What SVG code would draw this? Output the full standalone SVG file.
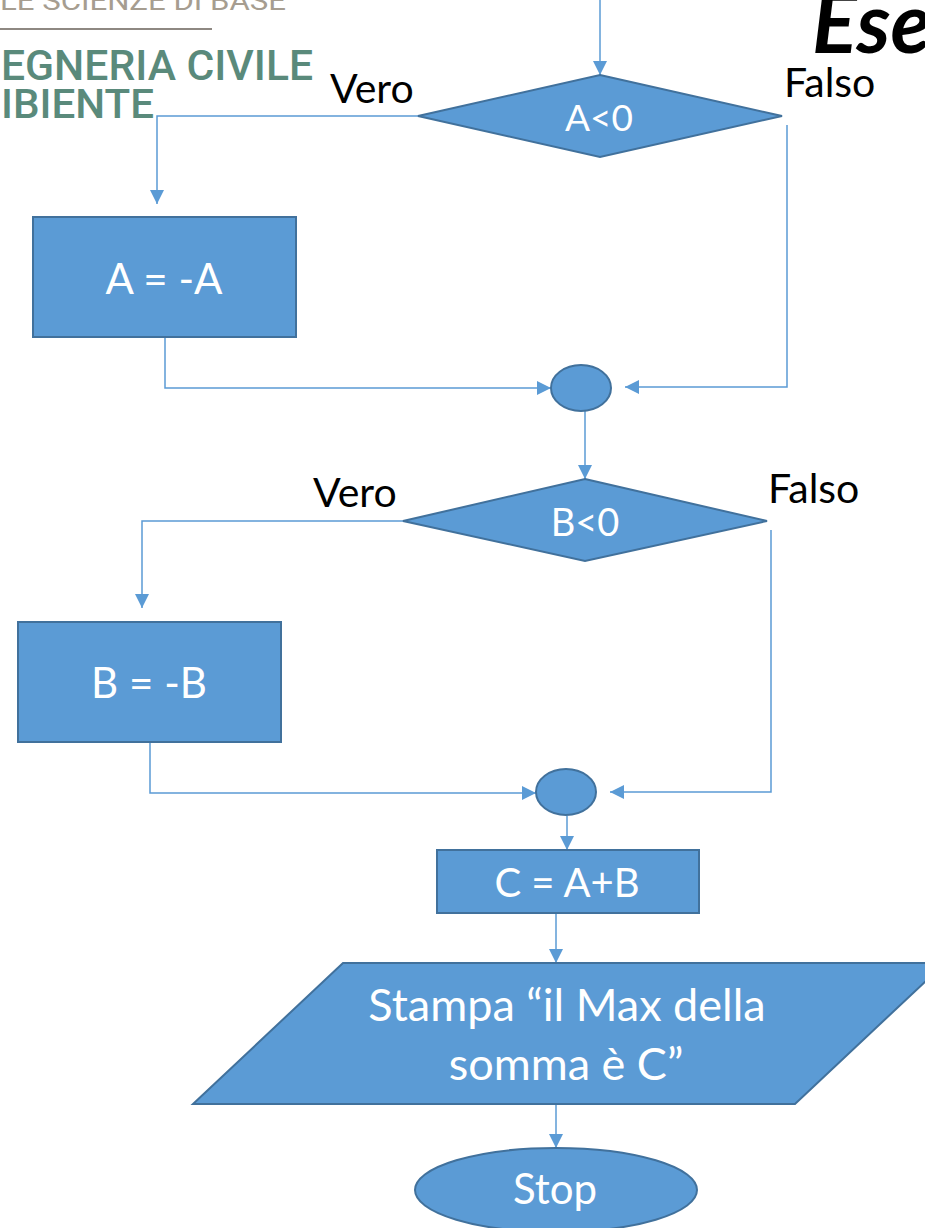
<svg xmlns="http://www.w3.org/2000/svg" width="925" height="1228" viewBox="0 0 925 1228">
<style>
.shape{fill:#5b9bd5;stroke:#41719c;stroke-width:2}
.lbl{font-family:Lato,"Open Sans",sans-serif;fill:#ffffff;text-anchor:middle}
.blk{font-family:Lato,"Open Sans",sans-serif;fill:#000000}
.conn{fill:none;stroke:#5b9bd5;stroke-width:1.5}
.logo{font-family:Roboto,"DejaVu Sans",sans-serif}
</style>
<defs>
<marker id="arr" markerUnits="userSpaceOnUse" markerWidth="14" markerHeight="14" refX="14" refY="7" orient="auto">
<path d="M0,0 L14,7 L0,14 z" fill="#5b9bd5"/>
</marker>
</defs>
<rect width="925" height="1228" fill="#ffffff"/>
<g id="logo">
<text class="logo" x="0" y="10" font-size="25" fill="#a69d90" textLength="286" lengthAdjust="spacingAndGlyphs">LE SCIENZE DI BASE</text>
<line x1="0" y1="29" x2="212" y2="29" stroke="#8e8882" stroke-width="2"/>
<text class="logo" x="1" y="80" font-size="42" font-weight="500" fill="#5a8a7b" textLength="312" lengthAdjust="spacingAndGlyphs">EGNERIA CIVILE</text>
<text class="logo" x="1" y="118" font-size="40" font-weight="500" fill="#5a8a7b" textLength="153" lengthAdjust="spacingAndGlyphs">IBIENTE</text>
</g>
<g id="title">
<text x="812" y="53" font-family="Lato,'Open Sans',sans-serif" font-size="84" font-weight="bold" font-style="italic" fill="#000000">Ese</text>
</g>
<g id="connectors">
<path class="conn" d="M600,0 V75" marker-end="url(#arr)"/>
<path class="conn" d="M418,116 H157 V204" marker-end="url(#arr)"/>
<path class="conn" d="M165,337 V388 H551" marker-end="url(#arr)"/>
<path class="conn" d="M787,125 V387 H625" marker-end="url(#arr)"/>
<path class="conn" d="M585,411 V479" marker-end="url(#arr)"/>
<path class="conn" d="M403,521 H142 V608" marker-end="url(#arr)"/>
<path class="conn" d="M150,742 V793 H536" marker-end="url(#arr)"/>
<path class="conn" d="M771,530 V792 H610" marker-end="url(#arr)"/>
<path class="conn" d="M567,816 V850" marker-end="url(#arr)"/>
<path class="conn" d="M556,913 V963" marker-end="url(#arr)"/>
<path class="conn" d="M556,1104 V1148" marker-end="url(#arr)"/>
</g>
<g id="labels">
<text class="blk" x="330" y="103" font-size="41">Vero</text>
<text class="blk" x="784" y="97" font-size="41">Falso</text>
<text class="blk" x="313" y="507" font-size="41">Vero</text>
<text class="blk" x="768" y="503" font-size="41">Falso</text>
</g>
<g id="dec-a">
<polygon class="shape" points="600,75 782,116 600,157 418,116"/>
<text class="lbl" x="599" y="131" font-size="37">A&lt;0</text>
</g>
<g id="assign-a">
<rect class="shape" x="33" y="217" width="263" height="120"/>
<text class="lbl" x="164" y="294" font-size="42">A = -A</text>
</g>
<g id="join-1">
<ellipse class="shape" cx="581" cy="388" rx="30" ry="23"/>
</g>
<g id="dec-b">
<polygon class="shape" points="585,479 767,521 585,561 403,521"/>
<text class="lbl" x="585" y="536" font-size="38">B&lt;0</text>
</g>
<g id="assign-b">
<rect class="shape" x="18" y="622" width="263" height="120"/>
<text class="lbl" x="149" y="698" font-size="42">B = -B</text>
</g>
<g id="join-2">
<ellipse class="shape" cx="566" cy="792" rx="30" ry="23"/>
</g>
<g id="sum">
<rect class="shape" x="437" y="850" width="262" height="63"/>
<text class="lbl" x="567" y="897" font-size="40">C = A+B</text>
</g>
<g id="print">
<polygon class="shape" points="343,963 945,963 795,1104 193,1104"/>
<text class="lbl" x="567" y="1021" font-size="45">Stampa “il Max della</text>
<text class="lbl" x="566" y="1080" font-size="45">somma è C”</text>
</g>
<g id="stop">
<ellipse class="shape" cx="556" cy="1190" rx="141" ry="42"/>
<text class="lbl" x="555" y="1204" font-size="42">Stop</text>
</g>
</svg>
